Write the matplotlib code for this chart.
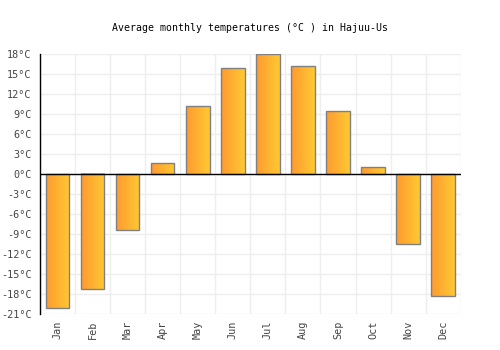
import numpy as np
import matplotlib
matplotlib.use("Agg")
import matplotlib.pyplot as plt
from matplotlib.colors import LinearSegmentedColormap

months = ["Jan", "Feb", "Mar", "Apr", "May", "Jun", "Jul", "Aug", "Sep", "Oct", "Nov", "Dec"]
temps = [-20.1, -17.3, -8.4, 1.6, 10.2, 15.9, 18.0, 16.2, 9.4, 1.0, -10.5, -18.3]
yticks = [18, 15, 12, 9, 6, 3, 0, -3, -6, -9, -12, -15, -18, -21]
title = "Average monthly temperatures (°C ) in Hajuu-Us"

plt.rcParams['font.family'] = ['DejaVu Sans Mono']

fig = plt.figure(figsize=(5, 3.5), dpi=100)
ax = fig.add_axes([0.08, 0.1029, 0.8414, 0.7428])

x = np.arange(len(months))
width = 0.67
cmap = LinearSegmentedColormap.from_list("g", ["#ff9a30", "#ffc933"])
grad = np.linspace(0, 1, 64).reshape(1, -1)

bars = ax.bar(x, temps, width=width, facecolor="none", edgecolor="#808080", linewidth=1.0, zorder=3)
for b in bars:
    x0 = b.get_x()
    y0 = b.get_y()
    h = b.get_height()
    ax.imshow(grad, cmap=cmap, aspect="auto", extent=[x0, x0 + width, y0, y0 + h],
              zorder=2, interpolation="bilinear")

ax.set_xlim(-0.5, len(months) - 0.5)
ax.set_ylim(-21, 18)
ax.set_yticks(yticks)
ax.set_yticklabels([f"{v}°C" for v in yticks])
ax.set_xticks(x)
ax.set_xticklabels(months, rotation=90)
ax.set_xticks(np.arange(-0.5, len(months) + 0.5, 1), minor=True)

ax.grid(False)
ax.grid(True, which="minor", axis="x", color="#eeeeee", linewidth=1, zorder=0)
ax.grid(True, which="major", axis="y", color="#eeeeee", linewidth=1, zorder=0)
ax.tick_params(axis="x", which="both", length=0, labelsize=7.3, labelcolor="#444444", pad=5)
ax.tick_params(axis="y", length=0, labelsize=7.3, labelcolor="#444444", pad=6)

for s in ["top", "right", "bottom"]:
    ax.spines[s].set_visible(False)
ax.spines["left"].set_color("black")
ax.spines["left"].set_linewidth(1)
ax.axhline(0, color="black", linewidth=1, zorder=4)

fig.text(0.5, 1 - 28 / 350, title, ha="center", va="center", fontsize=7.1, color="#000000")

fig.savefig("out.png", dpi=100)
